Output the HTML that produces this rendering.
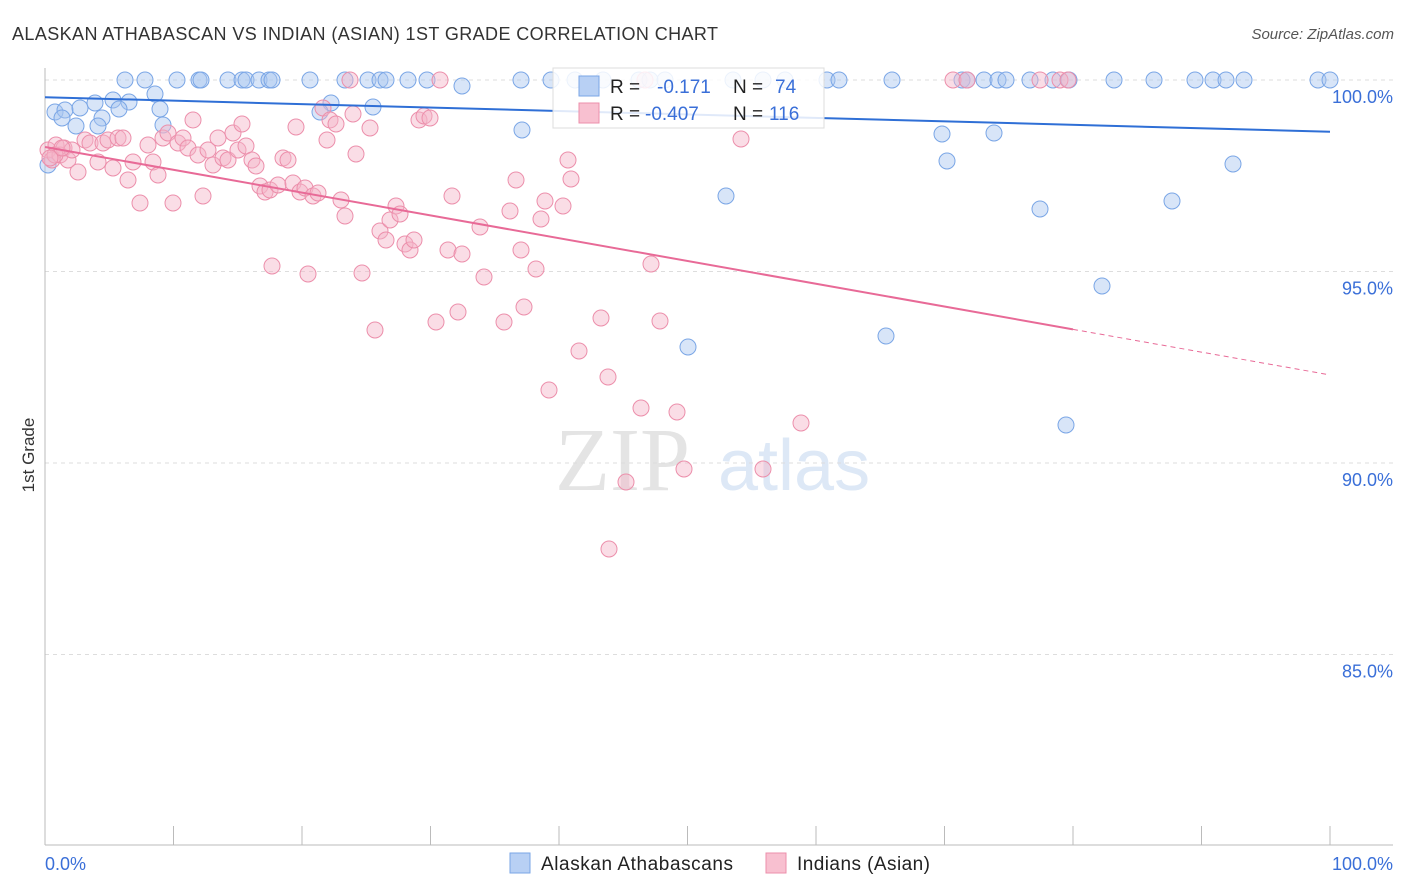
<!DOCTYPE html>
<html><head><meta charset="utf-8"><style>
body{margin:0;background:#fff;font-family:"Liberation Sans",sans-serif;}
svg{display:block}
</style></head><body>
<svg id="chart" width="1406" height="892">
<text x="12" y="40" font-size="18" fill="#333" textLength="706">ALASKAN ATHABASCAN VS INDIAN (ASIAN) 1ST GRADE CORRELATION CHART</text>
<text x="1394" y="39" font-size="15" fill="#555" text-anchor="end" font-style="italic">Source: ZipAtlas.com</text>
<text x="34" y="455" font-size="17" fill="#333" transform="rotate(-90 34 455)" text-anchor="middle">1st Grade</text>
<g><text x="555" y="490" font-size="90" fill="#e4e4e4" font-family="Liberation Serif,serif">ZIP</text><text x="718" y="490" font-size="72" fill="#dde8f6">atlas</text></g>
<g id="grid"></g><g id="marks"></g>
<g>
<rect x="553" y="68" width="271" height="60" fill="#fff" fill-opacity="0.85" stroke="#ddd"/>
<rect x="579" y="76" width="20" height="20" fill="#b8d0f4" stroke="#7aa6e6"/>
<rect x="579" y="103" width="20" height="20" fill="#f8c0d0" stroke="#ec8fab"/>
<text x="610" y="93" font-size="19" fill="#222">R = </text><text x="657" y="93" font-size="19" fill="#3a6fd8">-0.171</text>
<text x="733" y="93" font-size="19" fill="#222">N = </text><text x="775" y="93" font-size="19" fill="#3a6fd8">74</text>
<text x="610" y="120" font-size="19" fill="#222">R = </text><text x="645" y="120" font-size="19" fill="#3a6fd8">-0.407</text>
<text x="733" y="120" font-size="19" fill="#222">N = </text><text x="769" y="120" font-size="19" fill="#3a6fd8">116</text>
</g>
<g>
<rect x="510" y="853" width="20" height="20" fill="#b8d0f4" stroke="#7aa6e6"/><text x="541" y="870" font-size="19" fill="#222" textLength="192">Alaskan Athabascans</text>
<rect x="766" y="853" width="20" height="20" fill="#f8c0d0" stroke="#ec8fab"/><text x="797" y="870" font-size="19" fill="#222" textLength="133">Indians (Asian)</text>
</g>
<text x="45" y="870" font-size="18" fill="#3a6fd8">0.0%</text>
<text x="1393" y="870" font-size="18" fill="#3a6fd8" text-anchor="end">100.0%</text>
</svg>
<script>
const yTicks=[100,95,90,85];
const xTicks=[0,10,20,30,40,50,60,70,80,90,100];
const bluePx=[[125,80],[145,80],[177,80],[199,80],[201,80],[228,80],[242,80],[246,80],[259,80],[269,80],[272,80],[310,80],[345,80],[368,80],[380,80],[386,80],[408,80],[427,80],[521,80],[551,80],[575,80],[603,80],[639,80],[650,80],[665,80],[733,80],[763,80],[785,80],[827,80],[839,80],[892,80],[962,80],[967,80],[984,80],[998,80],[1006,80],[1030,80],[1053,80],[1069,80],[1114,80],[1154,80],[1195,80],[1213,80],[1226,80],[1244,80],[1318,80],[1330,80],[462,86],[155,94],[55,112],[65,110],[80,108],[95,103],[113,100],[129,102],[119,109],[160,109],[331,103],[373,107],[320,112],[62,118],[76,126],[102,118],[98,126],[163,125],[522,130],[942,134],[994,133],[947,161],[1233,164],[726,196],[1040,209],[1172,201],[1102,286],[688,347],[886,336],[1066,425],[48,165]];
const pinkPx=[[48,150],[52,160],[56,145],[60,155],[64,148],[68,160],[72,150],[78,172],[85,140],[90,143],[98,162],[103,143],[108,140],[113,168],[118,138],[123,138],[128,180],[133,162],[140,203],[148,145],[153,162],[158,175],[163,138],[168,133],[173,203],[178,143],[183,138],[188,148],[193,120],[198,155],[203,196],[208,150],[213,165],[218,138],[223,158],[228,160],[233,133],[238,150],[242,124],[246,146],[252,160],[256,166],[260,186],[265,192],[270,190],[272,266],[278,185],[283,158],[288,160],[293,183],[296,127],[300,192],[305,188],[308,274],[313,196],[318,193],[323,108],[327,140],[330,120],[336,124],[341,200],[345,216],[350,80],[353,114],[356,154],[362,273],[370,128],[375,330],[380,231],[386,240],[390,220],[396,206],[400,214],[405,244],[410,250],[414,240],[419,120],[424,116],[430,118],[436,322],[440,80],[448,250],[452,196],[458,312],[462,254],[480,227],[484,277],[504,322],[510,211],[516,180],[521,250],[524,307],[536,269],[541,219],[545,201],[549,390],[563,206],[568,160],[571,179],[579,351],[601,318],[608,377],[609,549],[626,482],[641,408],[645,80],[651,264],[660,321],[677,412],[684,469],[741,139],[763,469],[801,423],[953,80],[967,80],[1040,80],[1060,80],[1068,80],[55,155],[62,148],[50,158]];
const blueX=bluePx.map(p=>(p[0]-45)/12.85), blueY=bluePx.map(p=>100-(p[1]-80)/38.3);
const pinkX=pinkPx.map(p=>(p[0]-45)/12.85), pinkY=pinkPx.map(p=>100-(p[1]-80)/38.3);
const blueLine=[99.55,98.65], pinkLine=[98.25,92.3];
const X=v=>45+v*12.85, Y=v=>80+(100-v)*38.3;
const NS='http://www.w3.org/2000/svg';
function mk(t,a,p){const e=document.createElementNS(NS,t);for(const k in a)e.setAttribute(k,a[k]);p.appendChild(e);return e;}
const g=document.getElementById('grid'), m=document.getElementById('marks');
yTicks.forEach(t=>{
 const l=mk('line',{x1:45,x2:1393,y1:Y(t),y2:Y(t),stroke:'#ddd','stroke-dasharray':'4,4'},g);
 
 
 const tx=mk('text',{x:1393,y:Y(t)+23,'font-size':18,fill:'#3a6fd8','text-anchor':'end'},g);tx.textContent=t.toFixed(1)+'%';
 
 
});
mk('line',{x1:45,x2:45,y1:68,y2:845,stroke:'#bbb'},g);
mk('line',{x1:45,x2:1393,y1:845,y2:845,stroke:'#bbb'},g);
xTicks.forEach(t=>{const l=mk('line',{x1:X(t),x2:X(t),y1:826,y2:845,stroke:'#bbb'},g);
 
 });
blueX.forEach((x,i)=>{const c=mk('circle',{cx:X(x),cy:Y(blueY[i]),r:8,fill:'#a9c6f0','fill-opacity':0.45,stroke:'#7aa6e6','stroke-width':1},m);
 
 });
pinkX.forEach((x,i)=>{const c=mk('circle',{cx:X(x),cy:Y(pinkY[i]),r:8,fill:'#f5b3c7','fill-opacity':0.45,stroke:'#ec8fab','stroke-width':1},m);
 
 });
const bl=mk('line',{x1:X(0),y1:Y(blueLine[0]),x2:X(100),y2:Y(blueLine[1]),stroke:'#2f6fd6','stroke-width':2},m);


const py=v=>pinkLine[0]+(pinkLine[1]-pinkLine[0])*v/100;
const pl=mk('line',{x1:X(0),y1:Y(py(0)),x2:X(80),y2:Y(py(80)),stroke:'#e86a97','stroke-width':2},m);


const pd=mk('line',{x1:X(80),y1:Y(py(80)),x2:X(100),y2:Y(py(100)),stroke:'#e86a97','stroke-width':1,'stroke-dasharray':'5,4'},m);


</script>
</body></html>
